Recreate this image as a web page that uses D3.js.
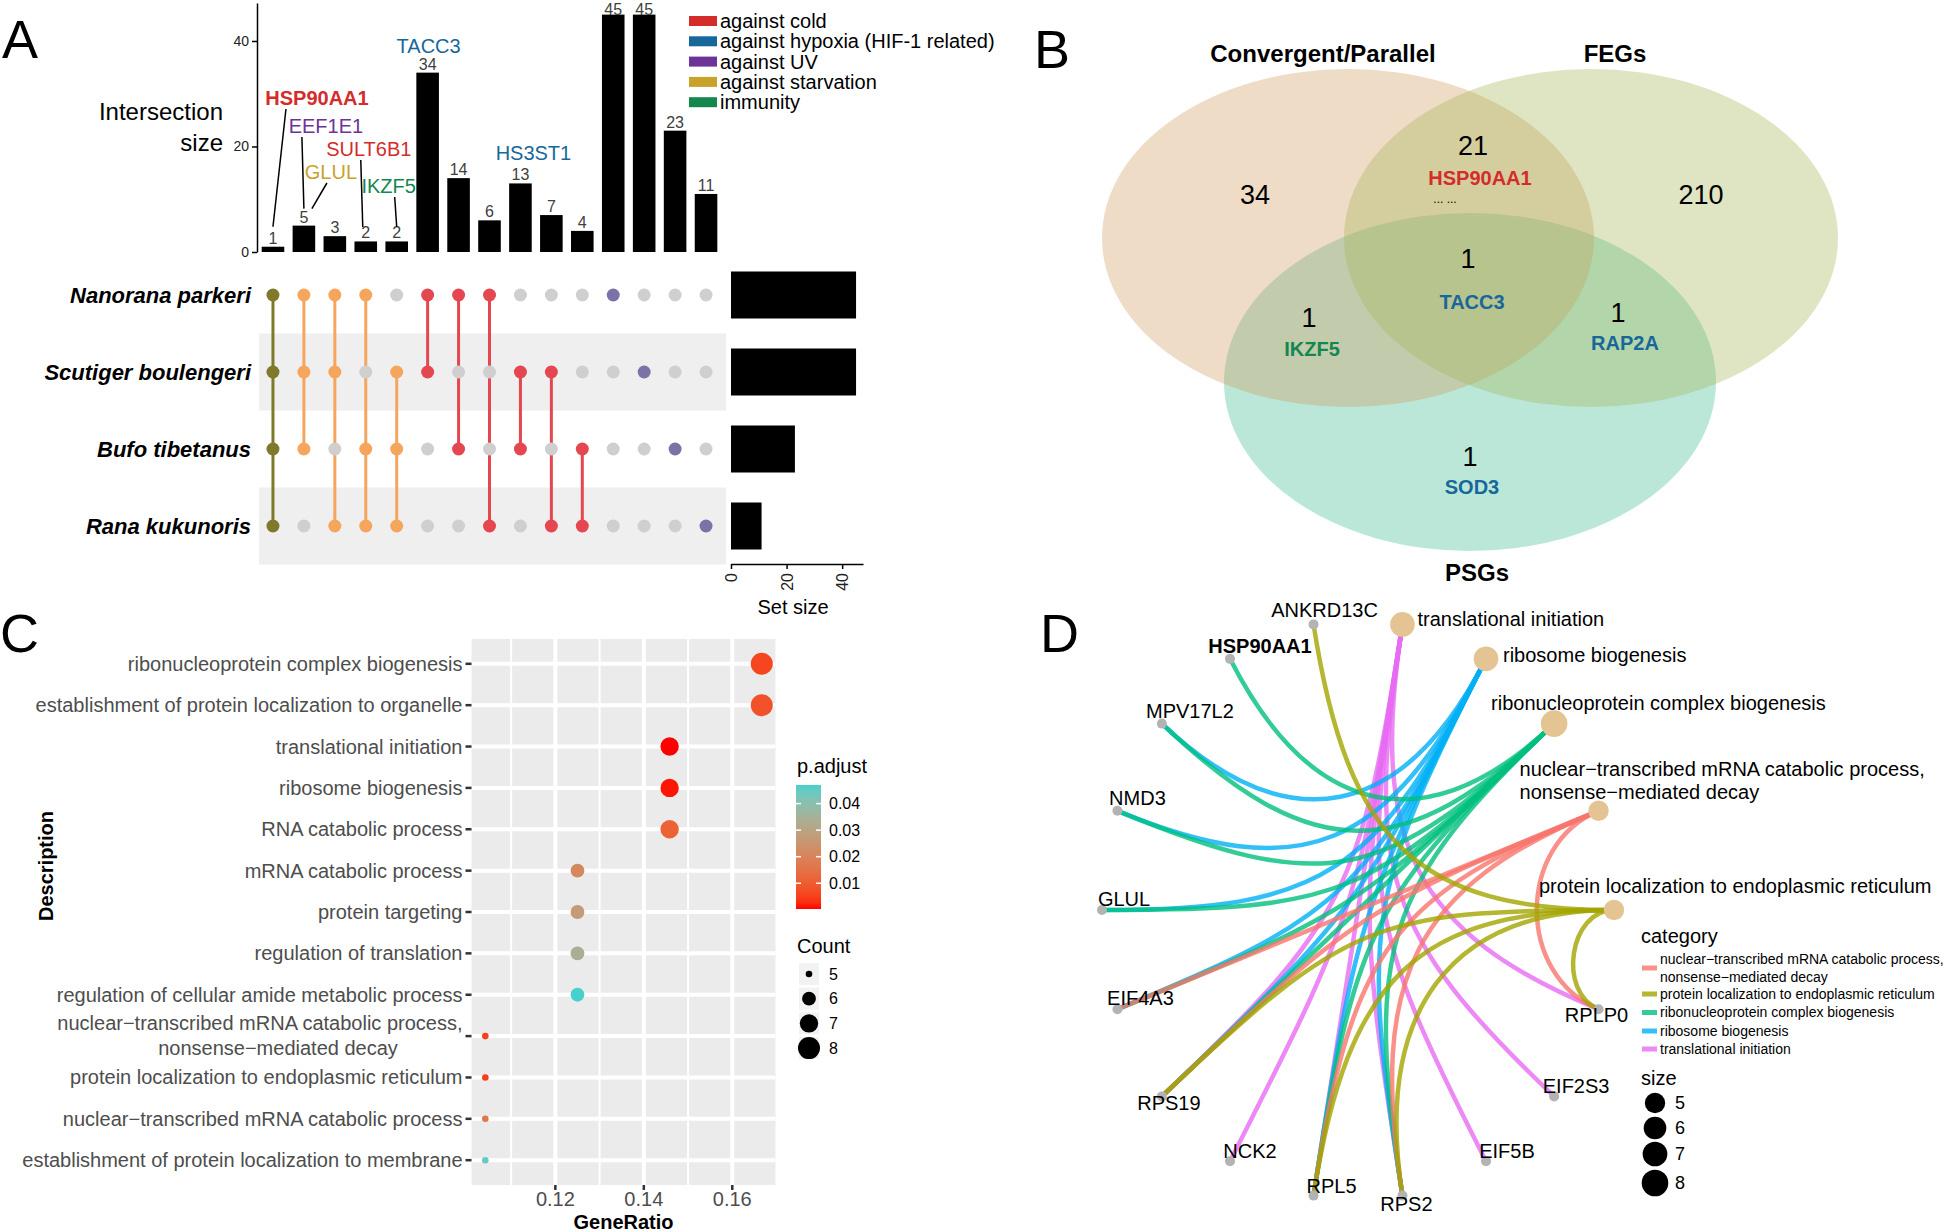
<!DOCTYPE html>
<html><head><meta charset="utf-8">
<script src="https://cdn.jsdelivr.net/npm/d3@7/dist/d3.min.js"></script>
<style>
html,body{margin:0;padding:0;background:#fff;}
svg{display:block;}
text{font-family:"Liberation Sans",Arial,Helvetica,sans-serif;}
</style></head><body>
<svg id="fig" width="1946" height="1232" xmlns="http://www.w3.org/2000/svg"></svg>
<script>
// ======================= DATA =======================
// Panel A – UpSet plot
const species = ["Nanorana parkeri", "Scutiger boulengeri", "Bufo tibetanus", "Rana kukunoris"];
const setSizes = [45, 45, 23, 11];
const intersectionSizes = [1, 5, 3, 2, 2, 34, 14, 6, 13, 7, 4, 45, 45, 23, 11];
const intersectionSets = [
  [0,1,2,3], [0,1,2], [0,1,3], [0,2,3], [1,2,3],
  [0,1], [0,2], [0,3], [1,2], [1,3], [2,3],
  [0], [1], [2], [3]
];
const adaptationClasses = ["against cold", "against hypoxia (HIF-1 related)", "against UV", "against starvation", "immunity"];
const annotatedGenes = ["HSP90AA1", "EEF1E1", "GLUL", "SULT6B1", "IKZF5", "TACC3", "HS3ST1"];
const annotatedGeneBar = [0, 1, 1, 3, 4, 5, 8];
const annotatedGeneClass = [0, 2, 3, 0, 4, 1, 1];

// Panel B – Venn diagram
const vennSets = ["Convergent/Parallel", "FEGs", "PSGs"];
const vennRegions = ["1", "2", "12", "123", "13", "23", "3"];
const vennRegionCounts = [34, 210, 21, 1, 1, 1, 1];
const vennRegionGenes = ["", "", "HSP90AA1", "TACC3", "IKZF5", "RAP2A", "SOD3"];
const vennGeneClass = {HSP90AA1: 0, TACC3: 1, IKZF5: 4, RAP2A: 1, SOD3: 1};

// Panel C – GO enrichment dot plot
const goTerms = [
  "ribonucleoprotein complex biogenesis",
  "establishment of protein localization to organelle",
  "translational initiation",
  "ribosome biogenesis",
  "RNA catabolic process",
  "mRNA catabolic process",
  "protein targeting",
  "regulation of translation",
  "regulation of cellular amide metabolic process",
  "nuclear\u2212transcribed mRNA catabolic process,\nnonsense\u2212mediated decay",
  "protein localization to endoplasmic reticulum",
  "nuclear\u2212transcribed mRNA catabolic process",
  "establishment of protein localization to membrane"
];
const goCounts = [8, 8, 7, 7, 7, 6, 6, 6, 6, 5, 5, 5, 5];
const goPadjust = [0.006, 0.008, 0.0003, 0.001, 0.011, 0.021, 0.027, 0.034, 0.047, 0.005, 0.005, 0.016, 0.045];
const goTotalGenes = 48;
const goRatioTicks = [0.12, 0.14, 0.16];
const padjTicks = [0.01, 0.02, 0.03, 0.04];
const countLegend = [5, 6, 7, 8];

// Panel D – gene-concept network
const cnetCategories = [
  "translational initiation",
  "ribosome biogenesis",
  "ribonucleoprotein complex biogenesis",
  "nuclear\u2212transcribed mRNA catabolic process,\nnonsense\u2212mediated decay",
  "protein localization to endoplasmic reticulum"
];
const cnetCategorySize = [7, 7, 8, 5, 5];
const cnetGenes = ["RPLP0", "EIF2S3", "EIF5B", "RPS2", "RPL5", "NCK2", "RPS19", "EIF4A3", "GLUL", "NMD3", "MPV17L2", "HSP90AA1", "ANKRD13C"];
const cnetMembers = [
  ["RPLP0", "EIF2S3", "EIF5B", "RPS2", "RPL5", "NCK2", "RPS19"],
  ["RPS2", "RPL5", "RPS19", "EIF4A3", "GLUL", "NMD3", "MPV17L2"],
  ["RPS2", "RPL5", "RPS19", "EIF4A3", "GLUL", "NMD3", "MPV17L2", "HSP90AA1"],
  ["RPLP0", "RPS2", "RPL5", "RPS19", "EIF4A3"],
  ["RPLP0", "RPS2", "RPL5", "RPS19", "ANKRD13C"]
];
const cnetLegendOrder = [3, 4, 2, 1, 0];
const sizeLegend = [5, 6, 7, 8];

// ======================= STYLE / LAYOUT =======================
const classColors = ["#d42b2b", "#17679a", "#6c3399", "#c9a22c", "#14874f"];
const degreeColors = {4: "#7f792c", 3: "#f5a55c", 2: "#e4474f", 1: "#7b72a8"};
const cnetColors = ["#E76BF3", "#00B0F6", "#00BF7D", "#F8766D", "#A3A500"];

const svg = d3.select("#fig");
const FONT = '"Liberation Sans", Arial, Helvetica, sans-serif';

// panel letters
[["A", 2, 58], ["B", 1034, 68], ["C", 0, 652], ["D", 1040, 652]].forEach(([t, x, y]) =>
  svg.append("text").attr("x", x).attr("y", y).attr("font-size", 54).attr("fill", "#000").text(t));

// ======================= PANEL A =======================
const gA = svg.append("g");
const aBase = 252;
const aY = d3.scaleLinear().domain([0, 47.2]).range([aBase, 3]);
const aX = d3.scaleBand().domain(d3.range(intersectionSizes.length)).range([257.5, 721.5]).paddingInner(0.27).paddingOuter(0.135);
const aCx = i => aX(i) + aX.bandwidth() / 2;

const yAx = gA.append("g").attr("transform", "translate(257,0)")
  .call(d3.axisLeft(aY).tickValues([0, 20, 40]).tickSize(5).tickSizeOuter(0).tickPadding(3));
yAx.attr("font-family", FONT);
yAx.select(".domain").attr("stroke", "#000").attr("stroke-width", 1.5);
yAx.selectAll(".tick line").attr("stroke", "#000").attr("stroke-width", 1.5);
yAx.selectAll(".tick text").attr("font-size", 14).attr("fill", "#222");

gA.append("text").attr("x", 223).attr("y", 120).attr("text-anchor", "end").attr("font-size", 24).text("Intersection");
gA.append("text").attr("x", 223).attr("y", 151).attr("text-anchor", "end").attr("font-size", 24).text("size");

gA.selectAll("rect.ibar").data(intersectionSizes).join("rect").attr("class", "ibar")
  .attr("x", (d, i) => aX(i)).attr("width", aX.bandwidth())
  .attr("y", d => aY(d)).attr("height", d => aBase - aY(d)).attr("fill", "#000");
gA.selectAll("text.ival").data(intersectionSizes).join("text").attr("class", "ival")
  .attr("x", (d, i) => aCx(i)).attr("y", d => Math.max(aY(d) - 3, 15)).attr("text-anchor", "middle")
  .attr("font-size", 16).attr("fill", "#404040").text(d => d);

// gene annotations (label offsets relative to their bar)
const annotLayout = [
  {dx: 44, y: 105, top: 13, bot: 0, gap: 20, bold: true},
  {dx: 22, y: 133, top: -2, bot: 0, gap: 17},
  {dx: 27, y: 179, top: 23, bot: 8, gap: 17},
  {dx: 3, y: 156, top: -5, bot: -3, gap: 14.5},
  {dx: -8, y: 193, top: -2, bot: 0, gap: 14.5},
  {dx: 1, y: 53},
  {dx: 13, y: 160}
];
annotatedGenes.forEach((g, k) => {
  const L = annotLayout[k], b = annotatedGeneBar[k], cx = aCx(b);
  gA.append("text").attr("x", cx + L.dx).attr("y", L.y).attr("text-anchor", "middle")
    .attr("font-size", 20).attr("font-weight", L.bold ? "bold" : "normal")
    .attr("fill", classColors[annotatedGeneClass[k]]).text(g);
  if (L.top !== undefined) {
    gA.append("line").attr("x1", cx + L.top).attr("y1", L.y + 4)
      .attr("x2", cx + L.bot).attr("y2", aY(intersectionSizes[b]) - L.gap)
      .attr("stroke", "#000").attr("stroke-width", 1.5);
  }
});

// legend
adaptationClasses.forEach((c, i) => {
  const y = 21 + 20.3 * i;
  gA.append("rect").attr("x", 689).attr("y", y - 5).attr("width", 28).attr("height", 10).attr("fill", classColors[i]);
  gA.append("text").attr("x", 720).attr("y", y + 7).attr("font-size", 20).attr("fill", "#000").text(c);
});

// matrix
const rowY = d3.scalePoint().domain(d3.range(species.length)).range([295, 526]);
[1, 3].forEach(r => gA.append("rect").attr("x", 259).attr("width", 467)
  .attr("y", rowY(r) - 38.5).attr("height", 77).attr("fill", "#efefef"));
species.forEach((s, r) => gA.append("text").attr("x", 251).attr("y", rowY(r)).attr("dy", "0.35em")
  .attr("text-anchor", "end").attr("font-size", 22).attr("font-weight", "bold").attr("font-style", "italic").text(s));
intersectionSets.forEach((sets, i) => {
  const col = degreeColors[sets.length];
  if (sets.length > 1) {
    gA.append("line").attr("x1", aCx(i)).attr("x2", aCx(i))
      .attr("y1", rowY(d3.min(sets))).attr("y2", rowY(d3.max(sets)))
      .attr("stroke", col).attr("stroke-width", 3);
  }
  species.forEach((s, r) => {
    gA.append("circle").attr("cx", aCx(i)).attr("cy", rowY(r)).attr("r", 6.5)
      .attr("fill", sets.includes(r) ? col : "#cfcfcf");
  });
});

// set size bars
const sX = d3.scaleLinear().domain([0, 47.5]).range([731, 863]);
setSizes.forEach((v, r) => gA.append("rect").attr("x", sX(0)).attr("width", sX(v) - sX(0))
  .attr("y", rowY(r) - 23.5).attr("height", 47).attr("fill", "#000"));
const sAx = gA.append("g").attr("transform", "translate(0,564)")
  .call(d3.axisBottom(sX).tickValues([0, 20, 40]).tickSize(5).tickSizeOuter(0));
sAx.attr("font-family", FONT);
sAx.select(".domain").attr("stroke", "#000").attr("stroke-width", 1.5);
sAx.selectAll(".tick line").attr("stroke", "#000").attr("stroke-width", 1.5);
sAx.selectAll(".tick text").attr("font-size", 16).attr("fill", "#222")
  .attr("transform", "rotate(-90)").attr("text-anchor", "end").attr("x", -9).attr("y", 0).attr("dy", "0.35em");
gA.append("text").attr("x", 793).attr("y", 614).attr("text-anchor", "middle").attr("font-size", 20).text("Set size");

// ======================= PANEL B =======================
const gB = svg.append("g");
const vennShapes = [
  {cx: 1348, cy: 238, rx: 246, ry: 169, fill: "#d19b5c"},
  {cx: 1591, cy: 238, rx: 247, ry: 169, fill: "#a4b554"},
  {cx: 1470, cy: 382, rx: 246, ry: 169, fill: "#3aba90"}
];
[2, 0, 1].forEach(i => {
  const e = vennShapes[i];
  gB.append("ellipse").attr("cx", e.cx).attr("cy", e.cy).attr("rx", e.rx).attr("ry", e.ry)
    .attr("fill", e.fill).attr("fill-opacity", 0.35);
});
const vennTitlePos = [[1323, 62], [1615, 62], [1477, 581]];
vennSets.forEach((s, i) => gB.append("text").attr("x", vennTitlePos[i][0]).attr("y", vennTitlePos[i][1])
  .attr("text-anchor", "middle").attr("font-size", 24).attr("font-weight", "bold").text(s));
const vennLabelPos = {
  "1": {x: 1255, y: 204}, "2": {x: 1701, y: 204}, "12": {x: 1473, y: 155, gx: 1480, gy: 185},
  "123": {x: 1468, y: 268, gx: 1472, gy: 309}, "13": {x: 1309, y: 327, gx: 1312, gy: 356},
  "23": {x: 1618, y: 322, gx: 1625, gy: 350}, "3": {x: 1470, y: 466, gx: 1472, gy: 494}
};
vennRegions.forEach((r, i) => {
  const p = vennLabelPos[r];
  gB.append("text").attr("x", p.x).attr("y", p.y).attr("text-anchor", "middle").attr("font-size", 27).text(vennRegionCounts[i]);
  const g = vennRegionGenes[i];
  if (g) {
    gB.append("text").attr("x", p.gx).attr("y", p.gy).attr("text-anchor", "middle").attr("font-size", 20)
      .attr("font-weight", "bold").attr("fill", classColors[vennGeneClass[g]]).text(g);
  }
});
gB.append("text").attr("x", 1445).attr("y", 203).attr("text-anchor", "middle").attr("font-size", 12).text("... ...");

// ======================= PANEL C =======================
const gC = svg.append("g");
const goRatio = goCounts.map(c => c / goTotalGenes);
const rExt = d3.extent(goRatio), rPad = (rExt[1] - rExt[0]) * 0.05;
const pL = 471.5, pR = 775.6, pT = 639, pB = 1185;
const cX = d3.scaleLinear().domain([rExt[0] - rPad, rExt[1] + rPad]).range([pL, pR]);
const cY = d3.scalePoint().domain(goTerms).range([pT, pB]).padding(0.6);
const pExt = d3.extent(goPadjust);
const cColor = d3.scaleLinear().domain(pExt).range(["#ff0000", "#48d1cc"]).interpolate(d3.interpolateLab);
const cArea = d3.scaleLinear().domain(d3.extent(goCounts)).range([3.3 * 3.3, 11 * 11]);
const cR = c => Math.sqrt(cArea(c));

gC.append("rect").attr("x", pL).attr("y", pT).attr("width", pR - pL).attr("height", pB - pT).attr("fill", "#ebebeb");
const clip = svg.append("clipPath").attr("id", "cclip");
clip.append("rect").attr("x", pL).attr("y", pT).attr("width", pR - pL).attr("height", pB - pT);
const gGrid = gC.append("g").attr("clip-path", "url(#cclip)");
[0.11, 0.13, 0.15, 0.17].forEach(v => gGrid.append("line").attr("x1", cX(v)).attr("x2", cX(v)).attr("y1", pT).attr("y2", pB)
  .attr("stroke", "#fff").attr("stroke-width", 2));
goRatioTicks.forEach(v => gGrid.append("line").attr("x1", cX(v)).attr("x2", cX(v)).attr("y1", pT).attr("y2", pB)
  .attr("stroke", "#fff").attr("stroke-width", 4));
goTerms.forEach(t => gGrid.append("line").attr("x1", pL).attr("x2", pR).attr("y1", cY(t)).attr("y2", cY(t))
  .attr("stroke", "#fff").attr("stroke-width", 4));

goTerms.forEach((t, i) => {
  gC.append("circle").attr("cx", cX(goRatio[i])).attr("cy", cY(t)).attr("r", cR(goCounts[i])).attr("fill", cColor(goPadjust[i]));
  gC.append("line").attr("x1", pL - 6).attr("x2", pL).attr("y1", cY(t)).attr("y2", cY(t)).attr("stroke", "#333").attr("stroke-width", 2.5);
  const lines = t.split("\n");
  if (lines.length === 1) {
    gC.append("text").attr("x", pL - 9).attr("y", cY(t)).attr("dy", "0.35em").attr("text-anchor", "end")
      .attr("font-size", 20).attr("fill", "#4d4d4d").text(t);
  } else {
    gC.append("text").attr("x", pL - 9).attr("y", cY(t) - 13).attr("dy", "0.35em").attr("text-anchor", "end")
      .attr("font-size", 20).attr("fill", "#4d4d4d").text(lines[0]);
    gC.append("text").attr("x", 278).attr("y", cY(t) + 12).attr("dy", "0.35em").attr("text-anchor", "middle")
      .attr("font-size", 20).attr("fill", "#4d4d4d").text(lines[1]);
  }
});
goRatioTicks.forEach(v => {
  gC.append("line").attr("x1", cX(v)).attr("x2", cX(v)).attr("y1", pB).attr("y2", pB + 5).attr("stroke", "#333").attr("stroke-width", 2.5);
  gC.append("text").attr("x", cX(v)).attr("y", pB + 21).attr("text-anchor", "middle").attr("font-size", 20).attr("fill", "#4d4d4d").text(d3.format(".2f")(v));
});
gC.append("text").attr("x", (pL + pR) / 2).attr("y", 1229).attr("text-anchor", "middle").attr("font-size", 20).attr("font-weight", "bold").text("GeneRatio");
gC.append("text").attr("transform", "translate(53,866) rotate(-90)").attr("text-anchor", "middle").attr("font-size", 20).attr("font-weight", "bold").text("Description");

// p.adjust legend
gC.append("text").attr("x", 797).attr("y", 773).attr("font-size", 20).text("p.adjust");
const grad = svg.append("defs").append("linearGradient").attr("id", "pgrad").attr("x1", 0).attr("y1", 1).attr("x2", 0).attr("y2", 0);
d3.range(0, 1.0001, 0.05).forEach(f => grad.append("stop").attr("offset", f).attr("stop-color", cColor(pExt[0] + f * (pExt[1] - pExt[0]))));
const cbT = 785, cbB = 909, cbX = 796, cbW = 25;
gC.append("rect").attr("x", cbX).attr("y", cbT).attr("width", cbW).attr("height", cbB - cbT).attr("fill", "url(#pgrad)");
const cbY = d3.scaleLinear().domain(pExt).range([cbB, cbT]);
padjTicks.forEach(v => {
  const y = cbY(v);
  gC.append("line").attr("x1", cbX).attr("x2", cbX + 5).attr("y1", y).attr("y2", y).attr("stroke", "#fff").attr("stroke-width", 1.5);
  gC.append("line").attr("x1", cbX + cbW - 5).attr("x2", cbX + cbW).attr("y1", y).attr("y2", y).attr("stroke", "#fff").attr("stroke-width", 1.5);
  gC.append("text").attr("x", 829).attr("y", y).attr("dy", "0.35em").attr("font-size", 16).text(d3.format(".2f")(v));
});
gC.append("text").attr("x", 797).attr("y", 953).attr("font-size", 20).text("Count");
countLegend.forEach((c, i) => {
  const y = 974 + 24.7 * i;
  gC.append("rect").attr("x", 799).attr("y", y - 11).attr("width", 20).attr("height", 22).attr("fill", "#f2f2f2");
  gC.append("circle").attr("cx", 809).attr("cy", y).attr("r", cR(c)).attr("fill", "#000");
  gC.append("text").attr("x", 829).attr("y", y).attr("dy", "0.35em").attr("font-size", 16).text(c);
});

// ======================= PANEL D =======================
const gD = svg.append("g");
const nodes = cnetCategories.map((c, i) => ({name: c, type: "cat", idx: i}))
  .concat(cnetGenes.map(g => ({name: g, type: "gene"})));
const nN = nodes.length;
nodes.forEach((n, i) => {
  const a = (80 - 360 / nN * i) * Math.PI / 180;
  n.nx = Math.cos(a); n.ny = -Math.sin(a);
});
const dX = d3.scaleLinear().domain([-1, 1]).range([1358 - 256, 1358 + 256]);
const dY = d3.scaleLinear().domain([-1, 1]).range([910 - 290, 910 + 290]);
const byName = {};
nodes.forEach(n => { byName[n.type + ":" + n.name] = n; });

cnetMembers.forEach((genes, ci) => {
  const c = byName["cat:" + cnetCategories[ci]];
  genes.forEach(g => {
    const n = byName["gene:" + g];
    const chord = Math.hypot(c.nx - n.nx, c.ny - n.ny);
    const f = 1 - chord / 2;
    const p = d3.path();
    p.moveTo(dX(c.nx), dY(c.ny));
    p.bezierCurveTo(dX(c.nx * f), dY(c.ny * f), dX(n.nx * f), dY(n.ny * f), dX(n.nx), dY(n.ny));
    gD.append("path").attr("d", p.toString()).attr("fill", "none")
      .attr("stroke", cnetColors[ci]).attr("stroke-opacity", 0.8).attr("stroke-width", 4.5);
  });
});
const dArea = d3.scaleLinear().domain([5, 8]).range([10.2 * 10.2, 13.3 * 13.3]);
const dR = s => Math.sqrt(dArea(s));
nodes.forEach(n => {
  gD.append("circle").attr("cx", dX(n.nx)).attr("cy", dY(n.ny))
    .attr("r", n.type === "cat" ? dR(cnetCategorySize[n.idx]) : 5)
    .attr("fill", n.type === "cat" ? "#E5C494" : "#B3B3B3");
});
// label offsets relative to nodes
const catLabelOffset = [[15, 2], [17, 3], [-63, -14], [-79, -35], [-75, -17]];
const geneLabelOffset = {
  ANKRD13C: [11, -7], HSP90AA1: [30, -6], MPV17L2: [28, -6], NMD3: [20, -6], GLUL: [22, -4],
  EIF4A3: [23, -4], RPS19: [7, 14], NCK2: [20, -3], RPL5: [18, -3], RPS2: [4, 15],
  EIF5B: [21, -3], EIF2S3: [22, -3], RPLP0: [-2, 13]
};
nodes.forEach(n => {
  const x = dX(n.nx), y = dY(n.ny);
  if (n.type === "cat") {
    const o = catLabelOffset[n.idx];
    n.name.split("\n").forEach((line, k) => {
      gD.append("text").attr("x", x + o[0]).attr("y", y + o[1] + 23 * k).attr("font-size", 20).text(line);
    });
  } else {
    const o = geneLabelOffset[n.name];
    gD.append("text").attr("x", x + o[0]).attr("y", y + o[1]).attr("text-anchor", "middle")
      .attr("font-size", 20).attr("font-weight", n.name === "HSP90AA1" ? "bold" : "normal").text(n.name);
  }
});
// legend
gD.append("text").attr("x", 1641).attr("y", 943).attr("font-size", 20).text("category");
const legRows = [968, 994, 1012.5, 1031, 1049];
cnetLegendOrder.forEach((ci, k) => {
  const y = legRows[k];
  gD.append("line").attr("x1", 1642).attr("x2", 1657).attr("y1", y).attr("y2", y)
    .attr("stroke", cnetColors[ci]).attr("stroke-opacity", 0.8).attr("stroke-width", 5);
  const lines = cnetCategories[ci].split("\n");
  lines.forEach((line, j) => {
    gD.append("text").attr("x", 1660).attr("y", y + (lines.length > 1 ? (j === 0 ? -9 : 9) : 0))
      .attr("dy", "0.35em").attr("font-size", 14).text(line);
  });
});
gD.append("text").attr("x", 1641).attr("y", 1085).attr("font-size", 20).text("size");
sizeLegend.forEach((s, i) => {
  const y = [1103, 1128, 1154, 1183][i];
  gD.append("circle").attr("cx", 1655).attr("cy", y).attr("r", dR(s)).attr("fill", "#000");
  gD.append("text").attr("x", 1675).attr("y", y).attr("dy", "0.35em").attr("font-size", 18).text(s);
});
</script>
</body></html>
